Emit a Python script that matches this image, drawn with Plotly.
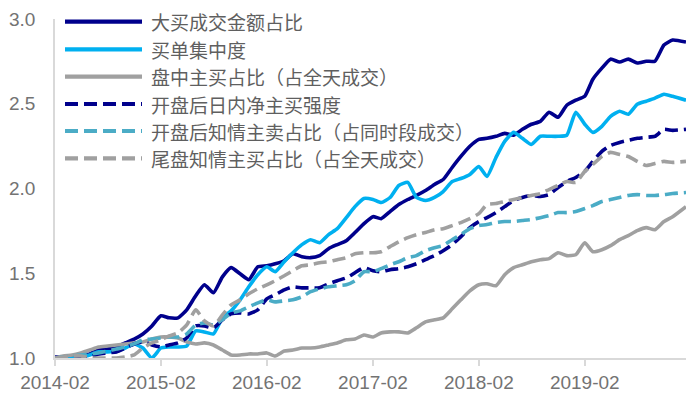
import pandas as pd
import plotly.graph_objects as go

# ---- data ----
months = list(pd.date_range("2014-02-01", periods=71, freq="MS").strftime("%Y-%m-%d")) + ["2020-01-16"]

names = [
    "大买成交金额占比",
    "买单集中度",
    "盘中主买占比（占全天成交）",
    "开盘后日内净主买强度",
    "开盘后知情主卖占比（占同时段成交）",
    "尾盘知情主买占比（占全天成交）",
]

big_buy_amount = [1.006, 1.006, 1.012, 1.018, 1.024, 1.047, 1.053, 1.065, 1.089, 1.112,
                  1.142, 1.189, 1.249, 1.237, 1.237, 1.284, 1.367, 1.432, 1.385, 1.479,
                  1.533, 1.497, 1.462, 1.538, 1.544, 1.556, 1.574, 1.615, 1.598, 1.592,
                  1.604, 1.645, 1.669, 1.692, 1.740, 1.793, 1.834, 1.822, 1.864, 1.905,
                  1.935, 1.959, 1.988, 2.024, 2.053, 2.124, 2.189, 2.249, 2.290, 2.296,
                  2.308, 2.325, 2.314, 2.349, 2.379, 2.396, 2.450, 2.420, 2.491, 2.521,
                  2.544, 2.645, 2.710, 2.763, 2.746, 2.763, 2.740, 2.751, 2.751, 2.846,
                  2.876, 2.864]

buy_concentration = [1.000, 1.000, 1.000, 1.006, 1.018, 1.036, 1.036, 1.041, 1.059, 1.083,
                     1.059, 1.000, 1.059, 1.065, 1.065, 1.071, 1.160, 1.154, 1.142, 1.237,
                     1.278, 1.343, 1.420, 1.491, 1.538, 1.509, 1.568, 1.621, 1.669, 1.698,
                     1.680, 1.728, 1.763, 1.828, 1.893, 1.941, 1.935, 1.917, 1.947, 2.018,
                     2.036, 1.947, 1.929, 1.947, 1.982, 2.041, 2.059, 2.083, 2.130, 2.071,
                     2.183, 2.278, 2.331, 2.296, 2.260, 2.308, 2.308, 2.308, 2.314, 2.450,
                     2.379, 2.331, 2.367, 2.426, 2.456, 2.438, 2.497, 2.515, 2.533, 2.556,
                     2.544, 2.521]

intraday_active_buy = [1.000, 1.012, 1.018, 1.030, 1.047, 1.065, 1.071, 1.077, 1.083, 1.089,
                       1.095, 1.112, 1.124, 1.124, 1.118, 1.095, 1.083, 1.089, 1.077, 1.047,
                       1.018, 1.018, 1.024, 1.024, 1.030, 1.012, 1.041, 1.047, 1.059, 1.059,
                       1.065, 1.077, 1.089, 1.107, 1.112, 1.136, 1.124, 1.148, 1.154, 1.154,
                       1.148, 1.178, 1.213, 1.225, 1.237, 1.290, 1.343, 1.396, 1.432, 1.438,
                       1.426, 1.491, 1.533, 1.550, 1.568, 1.580, 1.586, 1.621, 1.604, 1.609,
                       1.680, 1.627, 1.639, 1.663, 1.698, 1.722, 1.751, 1.769, 1.757, 1.805,
                       1.834, 1.893]

open_net_buy_strength = [1.000, 1.000, 1.000, 1.000, 1.006, 1.024, 1.030, 1.036, 1.059, 1.083,
                         1.095, 1.077, 1.065, 1.077, 1.089, 1.118, 1.189, 1.189, 1.178, 1.225,
                         1.260, 1.266, 1.260, 1.284, 1.349, 1.373, 1.402, 1.420, 1.414, 1.414,
                         1.414, 1.438, 1.456, 1.473, 1.503, 1.533, 1.515, 1.509, 1.521, 1.527,
                         1.538, 1.556, 1.580, 1.604, 1.633, 1.669, 1.716, 1.769, 1.805, 1.828,
                         1.858, 1.893, 1.929, 1.947, 1.959, 1.953, 1.964, 2.006, 2.041, 2.065,
                         2.101, 2.160, 2.219, 2.254, 2.272, 2.284, 2.296, 2.302, 2.308, 2.349,
                         2.343, 2.349]

open_informed_sell = [1.000, 1.006, 1.012, 1.018, 1.024, 1.030, 1.041, 1.053, 1.065, 1.083,
                      1.107, 1.112, 1.118, 1.124, 1.124, 1.142, 1.195, 1.207, 1.195, 1.225,
                      1.266, 1.278, 1.302, 1.325, 1.343, 1.331, 1.337, 1.343, 1.361, 1.391,
                      1.408, 1.420, 1.426, 1.432, 1.456, 1.509, 1.509, 1.527, 1.550, 1.568,
                      1.592, 1.604, 1.633, 1.651, 1.663, 1.698, 1.728, 1.763, 1.781, 1.787,
                      1.799, 1.805, 1.805, 1.811, 1.817, 1.828, 1.840, 1.858, 1.858, 1.864,
                      1.882, 1.899, 1.923, 1.935, 1.947, 1.959, 1.964, 1.959, 1.959, 1.964,
                      1.970, 1.976]

close_informed_buy = [1.000, 1.006, 1.012, 1.012, 1.000, 1.000, 1.000, 1.000, 1.006, 1.018,
                      1.059, 1.089, 1.107, 1.130, 1.148, 1.195, 1.284, 1.219, 1.189, 1.254,
                      1.314, 1.343, 1.379, 1.408, 1.432, 1.456, 1.485, 1.515, 1.544, 1.550,
                      1.562, 1.568, 1.580, 1.592, 1.615, 1.621, 1.621, 1.627, 1.657, 1.686,
                      1.710, 1.728, 1.740, 1.757, 1.763, 1.781, 1.799, 1.822, 1.852, 1.905,
                      1.911, 1.923, 1.935, 1.947, 1.959, 1.970, 1.994, 2.018, 2.041, 2.036,
                      2.101, 2.142, 2.189, 2.213, 2.201, 2.189, 2.160, 2.136, 2.148, 2.160,
                      2.154, 2.160]

y_ticks = [1.0, 1.5, 2.0, 2.5, 3.0]

series = [big_buy_amount, buy_concentration, intraday_active_buy,
          open_net_buy_strength, open_informed_sell, close_informed_buy]

# ---- styles ----
colors = ["#00008C", "#00B0F0", "#A0A0A0", "#00008C", "#4BACC6", "#A0A0A0"]
dashes = ["solid", "solid", "solid", "13px,6px", "13px,6px", "13px,6px"]
LW = 3.6

W, H = 699, 399
ML, MR, MT, MB = 55, 13, 19, 41
PW, PH = W - ML - MR, H - MT - MB

def px_x(x):
    return (x - ML) / PW

def px_y(y):
    return 1 - (y - MT) / PH

fig = go.Figure()
for name, vals, c, d in zip(names, series, colors, dashes):
    fig.add_trace(go.Scatter(
        x=months, y=vals, name=name, mode="lines",
        line=dict(color=c, width=LW, dash=d, shape="spline", smoothing=0.5),
        showlegend=False,
    ))

# manual legend (long line samples as in the reference)
row_y = [21.7, 49.3, 76.7, 104.0, 131.0, 158.3]
shapes = []
annotations = []
for name, c, d, ry in zip(names, colors, dashes, row_y):
    shapes.append(dict(type="line", xref="paper", yref="paper",
                       x0=px_x(65), x1=px_x(142), y0=px_y(ry), y1=px_y(ry),
                       line=dict(color=c, width=LW + 0.6, dash=d)))
    annotations.append(dict(xref="paper", yref="paper", x=px_x(149), y=px_y(ry),
                            xanchor="left", yanchor="middle", showarrow=False,
                            text=name,
                            font=dict(family="Noto Sans CJK SC", size=19, color="#5f5f5f")))

fig.update_layout(
    template="none",
    width=W, height=H,
    margin=dict(l=ML, r=MR, t=MT, b=MB, pad=0, autoexpand=False),
    plot_bgcolor="white", paper_bgcolor="white",
    shapes=shapes, annotations=annotations,
    font=dict(family="Liberation Sans, Arial, sans-serif", size=19, color="#737373"),
)
fig.update_xaxes(
    type="date", range=[months[0], months[-1]], automargin=False,
    tick0="2014-02-01", dtick="M12", tickformat="%Y-%m",
    showline=True, linecolor="#D9D9D9", linewidth=1.5,
    ticks="outside", ticklen=6, tickcolor="#D9D9D9", tickwidth=1.5,
    showgrid=False, zeroline=False,
)
fig.update_yaxes(
    range=[1.0, 3.0], tickvals=y_ticks, tickformat=".1f", automargin=False,
    showline=True, linecolor="#D9D9D9", linewidth=1.5,
    ticks="", ticklabelstandoff=14,
    showgrid=False, zeroline=False,
)

fig.write_html(
    "out.html",
    config={"displayModeBar": False},
    post_script="document.body.style.margin='0';document.body.style.padding='0';",
)
